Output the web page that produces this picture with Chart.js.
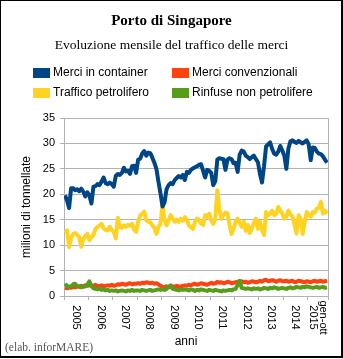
<!DOCTYPE html>
<html>
<head>
<meta charset="utf-8">
<script src="https://cdn.jsdelivr.net/npm/chart.js@4.4.1/dist/chart.umd.min.js"></script>
<style>
  html, body { margin: 0; padding: 0; background: #fff; }
  #wrap { position: relative; width: 343px; height: 359px; overflow: hidden; background: #fff; }
  #frame { position: absolute; left: 0; top: 0; width: 343px; height: 358px; box-sizing: border-box;
           border: 1px solid #000; border-right-width: 2px; border-bottom-width: 2px; pointer-events: none; }
  canvas { position: absolute; left: 0; top: 0; }
  .txt { position: absolute; white-space: nowrap; color: #000; }
  #title { left: 0; width: 343px; top: 11px; text-align: center; font: bold 15px/18px "Liberation Serif", serif; }
  #subtitle { left: 0; width: 343px; top: 37px; text-align: center; font: 13.5px/16px "Liberation Serif", serif; }
  #xtitle { left: 186px; top: 334px; transform: translateX(-50%); font: 12px/14px "Liberation Sans", Arial, sans-serif; }
  #credit { left: 5px; top: 341px; font: 11.5px/13px "Liberation Serif", serif; color: #555; }
  .lg { position: absolute; height: 14px; font: 12px/14px "Liberation Sans", Arial, sans-serif; color: #000; white-space: nowrap; }
  .lg i { position: absolute; left: 0; top: 3px; width: 17px; height: 10px; }
  .lg span { position: absolute; left: 20px; top: 0; }
</style>
</head>
<body>
<div id="wrap">
  <canvas id="chart" width="343" height="359"></canvas>
  <div id="title" class="txt">Porto di Singapore</div>
  <div id="subtitle" class="txt">Evoluzione mensile del traffico delle merci</div>
  <div id="legend"></div>
  <div id="xtitle" class="txt">anni</div>
  <div id="credit" class="txt">(elab. inforMARE)</div>
  <div id="frame"></div>
</div>
<script>
// Years on the x axis (the last one covers January-October 2015)
const yearLabels = ['2005', '2006', '2007', '2008', '2009', '2010', '2011', '2012', '2013', '2014', ['gen-ott', '2015']];
// Month index at which each year starts, plus the end of the series
const yearTicks = [0, 12, 24, 36, 48, 60, 72, 84, 96, 108, 120, 130];

const seriesNames = ['Merci in container', 'Merci convenzionali', 'Traffico petrolifero', 'Rinfuse non petrolifere'];
const seriesColors = ['#004586', '#ff420e', '#ffd320', '#579d1c'];

// Monthly traffic, million tonnes, Jan 2005 - Oct 2015
const container = [
  19.8, 18.8, 17.3, 21.2, 21.2, 20.8, 21.0, 20.6, 21.1, 20.5, 19.6, 20.4,
  19.8, 18.2, 21.5, 21.6, 22.0, 21.8, 22.5, 23.3, 22.2, 22.0, 22.3, 22.0,
  21.5, 23.6, 24.0, 23.8, 24.2, 25.2, 24.5, 24.6, 24.0, 25.5, 25.6, 24.2,
  26.8, 27.0, 28.0, 28.5, 27.6, 28.2, 28.1, 27.2, 26.2, 25.0, 22.5, 20.2,
  17.6, 18.4, 21.0, 21.8, 22.2, 22.0, 22.8, 23.2, 23.6, 23.3, 23.8, 22.8,
  24.4, 24.2, 24.8, 25.1, 25.3, 25.5, 25.8, 25.9, 24.6, 23.3, 24.8, 24.6,
  24.2, 21.8, 22.6, 26.8, 27.1, 27.0, 26.9, 24.8, 26.8, 27.1, 26.9, 26.1,
  26.2, 24.4, 27.8, 28.6, 28.4, 27.6, 27.3, 26.9, 27.3, 27.6, 26.9, 26.3,
  24.0, 22.3, 25.5, 29.4, 29.8, 30.2, 28.9, 28.0, 27.8, 28.4, 29.5, 28.6,
  27.6, 25.0, 29.0, 30.4, 30.6, 30.3, 30.1, 30.5, 30.2, 30.0, 30.3, 30.6,
  29.8, 26.7, 29.2, 29.1, 28.4, 28.0, 27.9, 27.5, 26.8, 26.2
];
const convenzionali = [
  1.6, 1.5, 1.7, 1.6, 1.8, 1.7, 1.9, 1.8, 2.0, 1.9, 2.1, 2.0,
  2.1, 2.0, 2.0, 2.2, 1.9, 2.0, 2.1, 1.9, 2.0, 2.1, 2.0, 2.2,
  2.0, 2.1, 2.3, 2.2, 2.4, 2.3, 2.2, 2.4, 2.5, 2.3, 2.4, 2.4,
  2.5, 2.4, 2.6, 2.5, 2.7, 2.6, 2.5, 2.6, 2.4, 2.5, 2.3, 2.0,
  1.8, 1.7, 1.9, 1.8, 1.7, 1.9, 1.8, 2.0, 1.9, 1.8, 2.0, 2.1,
  2.0, 2.2, 2.1, 2.3, 2.4, 2.2, 2.3, 2.5, 2.4, 2.3, 2.2, 2.4,
  2.6, 2.4, 2.5, 2.8, 2.6, 2.7, 2.5, 2.6, 2.8, 2.7, 2.5, 2.6,
  2.7, 2.8, 2.6, 2.9, 2.7, 2.8, 2.6, 2.7, 2.9, 2.8, 2.7, 2.8,
  3.0, 2.8, 3.1, 3.2, 2.9, 3.0, 3.1, 3.0, 2.8, 3.0, 3.1, 2.9,
  2.9, 3.0, 2.8, 2.9, 3.0, 2.7, 2.8, 3.0, 2.9, 2.8, 2.7, 2.9,
  2.8, 2.7, 2.9, 3.0, 2.8, 2.9, 3.0, 2.8, 2.9, 3.0
];
const petrolifero = [
  12.4, 12.9, 9.6, 11.4, 12.2, 12.4, 12.0, 11.6, 9.7, 11.2, 11.8, 12.2,
  11.0, 11.6, 12.0, 13.2, 13.6, 13.9, 14.2, 13.3, 13.0, 12.9, 13.6, 13.0,
  12.6, 11.3, 15.4, 13.6, 13.4, 13.9, 13.6, 14.0, 13.8, 14.2, 13.0, 12.6,
  14.6, 15.8, 16.2, 16.6, 14.9, 14.6, 14.5, 13.9, 13.4, 12.2, 13.6, 14.2,
  17.9, 15.0, 13.9, 14.8, 15.9, 15.2, 14.6, 15.0, 14.6, 15.2, 14.8, 15.5,
  15.0, 13.9, 13.5, 13.2, 14.6, 15.2, 14.9, 14.2, 14.0, 15.9, 15.6, 16.2,
  14.8, 14.2, 15.2, 20.8, 17.0, 15.2, 16.0, 16.4, 16.2, 14.0, 12.2, 13.2,
  14.6, 15.2, 14.4, 13.6, 14.6, 12.8, 14.0, 12.4, 13.3, 14.4, 15.2, 13.2,
  14.6, 13.0, 12.0, 16.5, 15.9, 16.2, 16.8, 15.9, 16.2, 17.5, 16.8, 16.2,
  15.2, 15.6, 16.8, 16.0, 15.6, 14.0, 12.3, 15.9, 15.2, 12.2, 14.4, 16.5,
  15.9, 15.6, 16.5, 16.4, 17.2, 17.4, 18.5, 16.2, 16.8, 16.2
];
const rinfuse = [
  2.4, 2.0, 1.8, 1.9, 2.3, 2.4, 2.0, 1.9, 1.7, 1.8, 1.9, 2.2,
  2.9, 2.0, 1.5, 1.4, 1.3, 1.5, 1.2, 1.3, 1.1, 1.2, 1.0, 1.1,
  1.0, 1.1, 0.9, 1.0, 1.1, 1.0, 0.9, 1.1, 1.0, 1.2, 1.0, 1.1,
  1.1, 1.0, 1.2, 1.1, 1.0, 1.1, 1.2, 1.0, 1.1, 1.2, 1.3, 1.2,
  1.3, 1.2, 1.4, 1.8, 2.1, 1.4, 1.3, 1.2, 1.1, 1.3, 1.2, 1.3,
  1.2, 1.1, 1.3, 1.2, 1.0, 1.2, 1.1, 1.3, 1.2, 1.1, 1.0, 1.2,
  1.1, 1.0, 1.2, 1.1, 1.0, 0.9, 1.1, 1.0, 1.1, 1.2, 1.1, 1.3,
  1.4, 2.2, 3.0, 1.6, 1.5, 1.4, 1.5, 1.4, 1.3, 1.5, 1.4, 1.5,
  1.3, 1.4, 1.6, 1.5, 1.4, 1.6, 1.5, 1.7, 1.6, 1.4, 1.5, 1.6,
  1.5, 1.4, 1.6, 1.7, 1.5, 1.6, 1.8, 1.7, 1.6, 1.8, 1.7, 1.9,
  1.8, 1.7, 1.6, 1.7, 1.8, 1.6, 1.7, 1.8, 1.6, 1.7
];
const seriesValues = [container, convenzionali, petrolifero, rinfuse];

// Legend: two columns, two rows
const legendSlots = [[33, 65], [172, 65], [33, 85], [172, 85]];
const legendEl = document.getElementById('legend');
seriesNames.forEach((name, k) => {
  const item = document.createElement('div');
  item.className = 'lg';
  item.style.left = legendSlots[k][0] + 'px';
  item.style.top = legendSlots[k][1] + 'px';
  const sw = document.createElement('i');
  sw.style.background = seriesColors[k];
  const label = document.createElement('span');
  label.textContent = name;
  item.appendChild(sw);
  item.appendChild(label);
  legendEl.appendChild(item);
});

const gridColor = '#b3b3b3';
const sans = "'Liberation Sans', Arial, sans-serif";

// Year names under the axis, rotated and centred in each year's span; right frame line
const yearAxisPlugin = {
  id: 'yearAxis',
  beforeDatasetsDraw(chart) {
    const { ctx, chartArea } = chart;
    ctx.save();
    ctx.strokeStyle = gridColor;
    ctx.lineWidth = 1;
    ctx.beginPath();
    const xr = Math.round(chartArea.right) + 0.5;
    ctx.moveTo(xr, chartArea.top);
    ctx.lineTo(xr, chartArea.bottom);
    ctx.stroke();
    ctx.restore();
  },
  afterDraw(chart) {
    const { ctx, chartArea, scales: { x } } = chart;
    ctx.save();
    ctx.fillStyle = '#000';
    ctx.font = '11px ' + sans;
    ctx.textAlign = 'center';
    ctx.textBaseline = 'middle';
    yearLabels.forEach((lab, k) => {
      const cx = x.getPixelForValue((yearTicks[k] + yearTicks[k + 1]) / 2);
      const lines = Array.isArray(lab) ? lab : [lab];
      ctx.save();
      ctx.translate(cx, chartArea.bottom + 21.5);
      ctx.rotate(Math.PI / 2);
      lines.forEach((t, j) => ctx.fillText(t, 0, (j - (lines.length - 1) / 2) * 10));
      ctx.restore();
    });
    ctx.restore();
  }
};

new Chart(document.getElementById('chart'), {
  type: 'line',
  data: {
    datasets: seriesNames.map((name, k) => ({
      label: name,
      data: seriesValues[k].map((v, i) => ({ x: i + 0.5, y: v })),
      borderColor: seriesColors[k],
      backgroundColor: seriesColors[k],
      borderWidth: 4,
      borderJoinStyle: 'round',
      pointRadius: 0,
      tension: 0,
      fill: false,
      order: k === 3 ? 0 : 1
    }))
  },
  options: {
    responsive: false,
    animation: false,
    events: [],
    layout: { padding: { left: 0, top: 118, right: 15, bottom: 23 } },
    plugins: { legend: { display: false }, tooltip: { enabled: false } },
    scales: {
      x: {
        type: 'linear',
        min: yearTicks[0],
        max: yearTicks[yearTicks.length - 1],
        afterBuildTicks: (s) => { s.ticks = yearTicks.map(v => ({ value: v })); },
        afterFit: (s) => { s.height = 40; },
        ticks: { display: false },
        grid: { drawOnChartArea: false, color: gridColor, tickLength: 4 },
        border: { color: gridColor }
      },
      y: {
        min: 0,
        max: 35,
        afterFit: (s) => { s.width = 64; },
        ticks: { stepSize: 5, color: '#000', font: { family: sans, size: 11 }, padding: 5 },
        grid: { color: gridColor, tickLength: 4 },
        border: { color: gridColor },
        title: {
          display: true,
          text: 'milioni di tonnellate',
          color: '#000',
          font: { family: sans, size: 12 },
          padding: { top: 19, bottom: 0 }
        }
      }
    }
  },
  plugins: [yearAxisPlugin]
});
</script>
</body>
</html>
